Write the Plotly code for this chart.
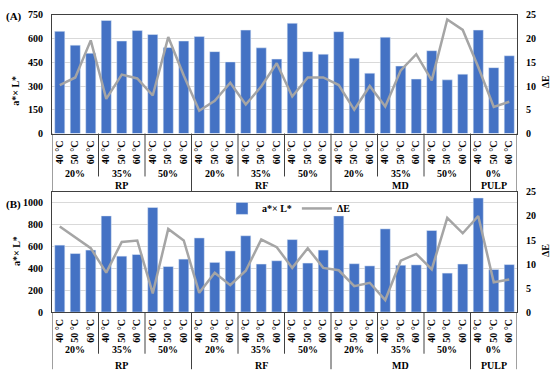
import plotly.graph_objects as go

# ---------------- data ----------------
materials = ["RP", "RF", "MD", "PULP"]
levels = [["20%", "35%", "50%"], ["20%", "35%", "50%"], ["20%", "35%", "50%"], ["0%"]]
temps = ["40 °C", "50 °C", "60 °C"]

A_aL = [645, 558, 507, 714, 584, 650, 625, 543, 584,
        612, 517, 452, 653, 541, 470, 696, 517, 501,
        643, 476, 381, 608, 426, 344, 523, 339, 375,
        653, 416, 491]
A_dE = [10.2, 11.8, 19.6, 7.3, 12.4, 11.6, 8.0, 20.3, 12.2,
        4.8, 6.9, 10.7, 6.1, 9.9, 14.8, 7.8, 11.8, 11.8,
        10.2, 5.0, 10.0, 5.7, 13.3, 16.7, 11.2, 24.0, 21.8,
        14.0, 5.6, 6.7]

B_aL = [613, 536, 568, 881, 512, 527, 958, 417, 485,
        679, 455, 560, 699, 440, 470, 664, 449, 568,
        881, 443, 423, 762, 429, 432, 747, 357, 440,
        1045, 390, 435]
B_dE = [17.8, 15.6, 13.3, 8.2, 14.6, 14.9, 3.9, 17.3, 14.9,
        4.0, 8.2, 5.6, 8.6, 15.1, 13.5, 9.2, 13.3, 9.2,
        8.7, 5.4, 6.1, 2.5, 10.7, 12.1, 8.9, 19.6, 16.4,
        20.0, 6.2, 6.8]

# ---------------- build categories ----------------
tick_text = []
group_centers = []   # (center index, label)
mat_centers = []     # (center index, label)
short_bounds = []
long_bounds = [-0.5]
idx = 0
for m, lv in zip(materials, levels):
    start = idx
    for j, p in enumerate(lv):
        gstart = idx
        for t in temps:
            tick_text.append(t)
            idx += 1
        group_centers.append(((gstart + idx - 1) / 2, p))
        if j < len(lv) - 1:
            short_bounds.append(idx - 0.5)
    mat_centers.append(((start + idx - 1) / 2, m))
    long_bounds.append(idx - 0.5)
xs = list(range(len(tick_text)))

BLUE = "#4472C4"
GRAY = "#A5A5A5"
FONT = "Liberation Serif"
W, H = 550, 382


def py(px):
    return 1 - px / H


fig = go.Figure()
fig.add_trace(go.Bar(x=xs, y=A_aL, marker_color=BLUE, name="a*× L*", showlegend=False,
                     xaxis="x", yaxis="y"))
fig.add_trace(go.Scatter(x=xs, y=A_dE, mode="lines", line=dict(color=GRAY, width=2.5),
                         name="ΔE", showlegend=False, xaxis="x", yaxis="y2"))
fig.add_trace(go.Bar(x=xs, y=B_aL, marker_color=BLUE, name="a*× L*", showlegend=True,
                     xaxis="x2", yaxis="y3"))
fig.add_trace(go.Scatter(x=xs, y=B_dE, mode="lines", line=dict(color=GRAY, width=2.5),
                         name="ΔE", showlegend=True, xaxis="x2", yaxis="y4"))

xdom = [52 / W, 517 / W]
domA = [py(131.7), py(9)]
domB = [py(316), py(192)]
tf = dict(family=FONT, size=10, color="black", weight="bold")

common_x = dict(domain=xdom, range=[-0.5, len(xs) - 0.5], tickmode="array", tickvals=xs,
                ticktext=tick_text, tickangle=-90, tickfont=tf, showgrid=False,
                showline=True, linecolor="#404040", linewidth=1, mirror=True,
                ticks="", zeroline=False, ticklabelstandoff=2)

fig.update_layout(
    width=W, height=H, margin=dict(l=0, r=0, t=0, b=0),
    plot_bgcolor="white", paper_bgcolor="white", bargap=0.35,
    xaxis=dict(common_x, anchor="y"),
    xaxis2=dict(common_x, anchor="y3"),
    yaxis=dict(domain=domA, range=[0, 750], dtick=150, tickfont=tf, showgrid=True,
               gridcolor="#D9D9D9", showline=True, linecolor="#404040", ticks="",
               zeroline=False, anchor="x", ticklabelstandoff=6),
    yaxis2=dict(domain=domA, range=[0, 25], dtick=5, tickfont=tf, overlaying="y",
                side="right", showgrid=False, showline=True, linecolor="#404040",
                ticks="", zeroline=False, anchor="x", ticklabelstandoff=6),
    yaxis3=dict(domain=domB, range=[0, 1100], tickvals=[0, 200, 400, 600, 800, 1000],
                tickfont=tf, showgrid=True, gridcolor="#D9D9D9", showline=True,
                linecolor="#404040", ticks="", zeroline=False, anchor="x2",
                ticklabelstandoff=6),
    yaxis4=dict(domain=domB, range=[0, 25], dtick=5, tickfont=tf, overlaying="y3",
                side="right", showgrid=False, showline=True, linecolor="#404040",
                ticks="", zeroline=False, anchor="x2", ticklabelstandoff=6),
    legend=dict(orientation="h", x=222 / W, y=py(209), xanchor="left", yanchor="middle",
                font=dict(family=FONT, size=10, color="black", weight="bold"),
                bgcolor="rgba(0,0,0,0)", itemwidth=30, tracegroupgap=0),
)

shapes = []
annotations = []
for xref, axis_px, short_px, long_px, pct_px, mat_px in [
        ("x", 131.7, 176, 192, 172.7, 185),
        ("x2", 316, 359, 375, 355, 371)]:
    for b in short_bounds:
        shapes.append(dict(type="line", xref=xref, yref="paper", x0=b, x1=b,
                           y0=py(axis_px), y1=py(short_px), line=dict(color="#404040", width=1)))
    for b in long_bounds:
        shapes.append(dict(type="line", xref=xref, yref="paper", x0=b, x1=b,
                           y0=py(axis_px), y1=py(long_px), line=dict(color="#404040", width=1)))
    for c, lab in group_centers:
        annotations.append(dict(x=c, y=py(pct_px), xref=xref, yref="paper", text=lab,
                                showarrow=False, font=tf, yanchor="middle"))
    for c, lab in mat_centers:
        annotations.append(dict(x=c, y=py(mat_px), xref=xref, yref="paper", text=lab,
                                showarrow=False, font=tf, yanchor="middle"))

tfl = dict(family=FONT, size=11, color="black", weight="bold")
annotations += [
    dict(x=4 / W, y=py(11), xref="paper", yref="paper", text="(A)", showarrow=False,
         xanchor="left", yanchor="middle", font=tfl),
    dict(x=4 / W, y=py(205), xref="paper", yref="paper", text="(B)", showarrow=False,
         xanchor="left", yanchor="middle", font=tfl),
    dict(x=16 / W, y=py(70), xref="paper", yref="paper", text="a*× L*", textangle=-90,
         showarrow=False, font=tf, xanchor="center"),
    dict(x=16 / W, y=py(253), xref="paper", yref="paper", text="a*× L*", textangle=-90,
         showarrow=False, font=tf, xanchor="center"),
    dict(x=545 / W, y=py(70), xref="paper", yref="paper", text="ΔE", textangle=-90,
         showarrow=False, font=tf, xanchor="center"),
    dict(x=545 / W, y=py(253), xref="paper", yref="paper", text="ΔE", textangle=-90,
         showarrow=False, font=tf, xanchor="center"),
]
fig.update_layout(shapes=shapes, annotations=annotations)

fig.write_html("out.html", config={"displayModeBar": False},
               post_script="document.body.style.margin='0';document.body.style.overflow='hidden';")
